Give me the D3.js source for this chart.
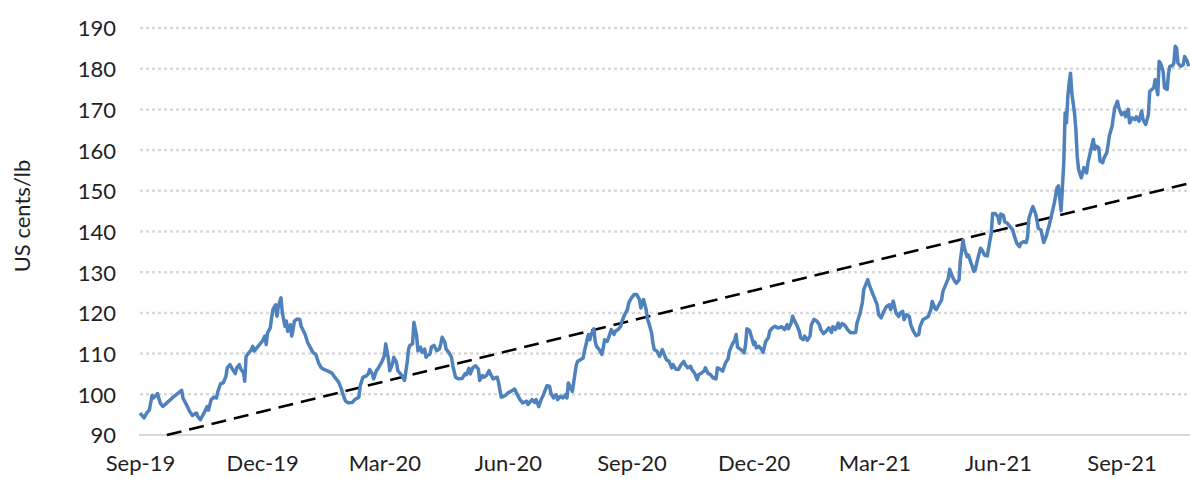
<!DOCTYPE html>
<html>
<head>
<meta charset="utf-8">
<script src="https://cdn.jsdelivr.net/npm/d3@7"></script>
<style>
  html, body { margin: 0; padding: 0; background: #fff; }
  svg { display: block; }
  text { font-family: Lato, "Open Sans", sans-serif; fill: #1f1f1f; }
</style>
</head>
<body>
<div id="chart"></div>
<script>
// coffee price, US cents/lb
const dates = [
  "2019-09-01","2019-09-02","2019-09-04","2019-09-06","2019-09-08","2019-09-10","2019-09-11","2019-09-13","2019-09-14","2019-09-16","2019-09-18","2019-09-21","2019-09-25","2019-09-28",
  "2019-10-02","2019-10-03","2019-10-06","2019-10-08","2019-10-10","2019-10-13","2019-10-14","2019-10-16","2019-10-18","2019-10-19","2019-10-21","2019-10-22","2019-10-24","2019-10-26","2019-10-28","2019-10-29","2019-10-31",
  "2019-11-02","2019-11-04","2019-11-05","2019-11-07","2019-11-09","2019-11-11","2019-11-12","2019-11-14","2019-11-15","2019-11-17","2019-11-18","2019-11-19","2019-11-21","2019-11-23","2019-11-24","2019-11-25","2019-11-27","2019-11-29",
  "2019-12-01","2019-12-03","2019-12-04","2019-12-05","2019-12-07","2019-12-08","2019-12-09","2019-12-11","2019-12-12","2019-12-13","2019-12-15","2019-12-16","2019-12-18","2019-12-19","2019-12-20","2019-12-22","2019-12-23","2019-12-24","2019-12-25","2019-12-27","2019-12-29","2019-12-30",
  "2020-01-02","2020-01-04","2020-01-06","2020-01-08","2020-01-10","2020-01-12","2020-01-14","2020-01-16","2020-01-19","2020-01-22","2020-01-24","2020-01-27","2020-01-29","2020-01-30",
  "2020-02-01","2020-02-03","2020-02-06","2020-02-08","2020-02-11","2020-02-12","2020-02-14","2020-02-16","2020-02-18","2020-02-19","2020-02-21","2020-02-22","2020-02-24","2020-02-25","2020-02-28",
  "2020-03-01","2020-03-02","2020-03-04","2020-03-05","2020-03-07","2020-03-08","2020-03-10","2020-03-11","2020-03-13","2020-03-14","2020-03-16","2020-03-18","2020-03-19","2020-03-20","2020-03-22","2020-03-23","2020-03-25","2020-03-26","2020-03-28","2020-03-29","2020-03-31",
  "2020-04-01","2020-04-02","2020-04-04","2020-04-05","2020-04-07","2020-04-09","2020-04-11","2020-04-12","2020-04-13","2020-04-15","2020-04-16","2020-04-18","2020-04-20","2020-04-21","2020-04-23","2020-04-25","2020-04-28","2020-04-30",
  "2020-05-01","2020-05-03","2020-05-04","2020-05-06","2020-05-08","2020-05-10","2020-05-11","2020-05-13","2020-05-14","2020-05-16","2020-05-18","2020-05-19","2020-05-21","2020-05-24","2020-05-25","2020-05-27","2020-05-30",
  "2020-06-01","2020-06-04","2020-06-06","2020-06-08","2020-06-10","2020-06-12","2020-06-15","2020-06-16","2020-06-19","2020-06-21","2020-06-22","2020-06-24","2020-06-26","2020-06-27","2020-06-30",
  "2020-07-02","2020-07-03","2020-07-05","2020-07-07","2020-07-08","2020-07-10","2020-07-12","2020-07-14","2020-07-15","2020-07-16","2020-07-17","2020-07-19","2020-07-21","2020-07-22","2020-07-23","2020-07-25","2020-07-27","2020-07-28","2020-07-30","2020-07-31",
  "2020-08-01","2020-08-02","2020-08-04","2020-08-05","2020-08-06","2020-08-08","2020-08-10","2020-08-11","2020-08-12","2020-08-14","2020-08-15","2020-08-17","2020-08-19","2020-08-20","2020-08-22","2020-08-24","2020-08-25","2020-08-27","2020-08-29","2020-08-30",
  "2020-09-01","2020-09-03","2020-09-05","2020-09-07","2020-09-08","2020-09-10","2020-09-12","2020-09-13","2020-09-14","2020-09-16","2020-09-17","2020-09-18","2020-09-20","2020-09-22","2020-09-24","2020-09-26","2020-09-27","2020-09-29",
  "2020-10-01","2020-10-02","2020-10-04","2020-10-06","2020-10-08","2020-10-10","2020-10-11","2020-10-13","2020-10-15","2020-10-16","2020-10-18","2020-10-20","2020-10-21","2020-10-23","2020-10-25","2020-10-26","2020-10-28","2020-10-30",
  "2020-11-01","2020-11-03","2020-11-04","2020-11-06","2020-11-08","2020-11-10","2020-11-12","2020-11-13","2020-11-15","2020-11-17","2020-11-18","2020-11-19","2020-11-21","2020-11-23","2020-11-24","2020-11-25","2020-11-26","2020-11-28","2020-11-30",
  "2020-12-01","2020-12-02","2020-12-03","2020-12-05","2020-12-07","2020-12-08","2020-12-10","2020-12-12","2020-12-13","2020-12-15","2020-12-17","2020-12-19","2020-12-22","2020-12-24","2020-12-26","2020-12-27","2020-12-29","2020-12-30","2020-12-31",
  "2021-01-02","2021-01-04","2021-01-05","2021-01-07","2021-01-08","2021-01-10","2021-01-12","2021-01-13","2021-01-15","2021-01-17","2021-01-19","2021-01-20","2021-01-22","2021-01-24","2021-01-26","2021-01-28","2021-01-29","2021-01-31",
  "2021-02-02","2021-02-03","2021-02-05","2021-02-07","2021-02-09","2021-02-11","2021-02-13","2021-02-15","2021-02-16","2021-02-18","2021-02-20","2021-02-21","2021-02-24","2021-02-25","2021-02-27",
  "2021-03-01","2021-03-03","2021-03-04","2021-03-06","2021-03-08","2021-03-10","2021-03-12","2021-03-13","2021-03-15","2021-03-17","2021-03-19","2021-03-20","2021-03-22","2021-03-23","2021-03-25","2021-03-27","2021-03-28","2021-03-30",
  "2021-04-01","2021-04-03","2021-04-04","2021-04-06","2021-04-08","2021-04-10","2021-04-12","2021-04-13","2021-04-15","2021-04-16","2021-04-18","2021-04-20","2021-04-21","2021-04-23","2021-04-25","2021-04-26","2021-04-28","2021-04-30",
  "2021-05-01","2021-05-03","2021-05-04","2021-05-06","2021-05-07","2021-05-09","2021-05-10","2021-05-12","2021-05-14","2021-05-15","2021-05-17","2021-05-19","2021-05-20","2021-05-22","2021-05-24","2021-05-25","2021-05-27","2021-05-28","2021-05-30",
  "2021-06-01","2021-06-02","2021-06-03","2021-06-05","2021-06-06","2021-06-08","2021-06-10","2021-06-12","2021-06-13","2021-06-15","2021-06-17","2021-06-18","2021-06-20","2021-06-22","2021-06-23","2021-06-24","2021-06-26","2021-06-27","2021-06-29","2021-06-30",
  "2021-07-01","2021-07-03","2021-07-05","2021-07-07","2021-07-09","2021-07-11","2021-07-13","2021-07-15","2021-07-16","2021-07-18","2021-07-20","2021-07-21","2021-07-22","2021-07-23","2021-07-24","2021-07-25","2021-07-26","2021-07-28","2021-07-29","2021-07-30","2021-07-31",
  "2021-08-02","2021-08-03","2021-08-04","2021-08-06","2021-08-07","2021-08-09","2021-08-11","2021-08-12","2021-08-13","2021-08-15","2021-08-16","2021-08-18","2021-08-19","2021-08-21","2021-08-22","2021-08-23","2021-08-25","2021-08-26","2021-08-27","2021-08-29","2021-08-30",
  "2021-09-01","2021-09-03","2021-09-04","2021-09-06","2021-09-07","2021-09-09","2021-09-11","2021-09-12","2021-09-14","2021-09-16","2021-09-17","2021-09-19","2021-09-21","2021-09-22","2021-09-24","2021-09-25","2021-09-26","2021-09-28","2021-09-29","2021-09-30",
  "2021-10-02","2021-10-03","2021-10-05","2021-10-06","2021-10-07","2021-10-09","2021-10-10","2021-10-11","2021-10-12","2021-10-13","2021-10-15","2021-10-17","2021-10-18","2021-10-20","2021-10-21"
];
const prices = [
  95.4,95.0,94.2,95.4,96.2,99.7,99.1,99.7,100.2,97.9,97.0,97.9,99.1,99.9,
  101.0,99.1,97.2,95.8,94.8,95.4,94.6,93.8,95.0,95.6,97.0,96.1,98.7,99.3,99.1,100.7,102.6,
  102.8,104.4,106.5,107.3,106.1,105.1,106.5,107.3,106.2,105.4,103.2,109.3,110.2,111.0,111.8,110.6,111.4,112.2,
  113.0,114.3,112.2,115.1,116.3,118.8,120.8,122.0,119.2,121.6,123.7,120.0,116.7,118.0,115.5,117.1,114.3,115.9,118.0,118.5,118.4,116.7,
  114.7,112.6,111.4,110.2,109.8,107.7,106.5,106.1,105.7,105.2,104.2,103.0,101.3,100.1,
  98.4,97.9,98.0,98.7,99.3,102.1,104.2,104.4,105.0,106.1,105.0,103.8,105.8,106.2,107.9,
  109.5,112.4,108.7,105.8,107.5,109.1,107.9,105.8,105.0,104.6,103.4,107.9,111.1,112.0,112.4,117.7,114.4,110.7,111.6,110.3,111.1,
  109.1,109.5,109.9,111.6,112.0,110.7,111.1,112.4,114.0,112.8,111.1,110.3,109.1,107.0,104.2,103.8,103.9,105.0,
  104.8,106.4,105.0,106.6,107.0,106.2,103.4,104.6,104.2,104.6,105.8,105.0,103.8,104.2,103.0,99.3,99.7,
  100.3,100.9,101.3,99.9,98.7,97.9,98.3,97.5,98.7,98.0,98.7,97.0,98.9,99.5,102.1,
  102.0,100.3,99.1,99.9,98.7,99.5,99.1,99.9,99.1,102.8,102.0,100.7,105.2,107.3,108.1,108.5,108.9,110.6,113.4,114.7,
  113.4,114.7,116.1,113.0,111.8,111.0,109.8,111.4,113.4,113.0,113.9,115.9,114.7,115.5,115.9,116.7,118.0,119.6,120.8,122.5,
  123.7,124.5,124.5,123.3,121.2,123.3,120.8,118.4,117.5,115.1,112.6,111.0,110.6,109.3,111.0,109.3,108.5,108.1,
  106.5,107.3,106.2,106.1,107.3,108.1,107.3,106.5,106.9,106.1,105.2,103.6,104.8,105.2,105.7,106.5,105.2,104.8,
  104.0,103.8,106.5,106.2,105.7,107.7,108.7,110.6,112.2,113.4,114.7,111.6,111.1,110.6,110.2,112.2,116.1,115.7,113.4,
  112.2,112.8,111.4,111.8,111.0,110.3,113.0,113.9,115.5,116.3,116.7,116.3,116.6,115.9,117.1,116.1,117.5,119.2,118.4,
  117.1,115.5,113.9,113.4,114.3,113.3,114.3,117.1,118.4,118.0,117.1,115.9,114.9,115.5,116.3,115.2,116.6,115.9,
  117.5,116.3,117.4,116.9,115.9,115.2,115.1,115.2,117.5,119.6,122.5,125.7,128.2,127.0,125.3,
  123.7,122.0,119.6,118.8,120.4,121.6,122.0,120.8,122.9,120.0,119.1,119.9,120.4,118.3,119.6,119.1,117.1,115.5,
  114.4,114.7,116.7,118.3,118.7,119.1,120.8,122.8,121.2,120.8,122.0,123.2,125.3,126.9,128.5,130.7,128.9,127.7,
  127.3,128.1,133.0,137.9,135.9,133.8,134.2,132.2,130.2,130.6,133.4,135.9,135.5,134.2,134.0,135.9,139.6,144.4,144.4,
  143.6,142.0,144.3,144.0,142.4,142.0,141.2,140.4,139.1,137.1,136.3,137.1,137.5,137.3,138.7,143.2,145.3,146.1,144.4,142.8,
  140.8,140.4,137.3,138.9,141.4,144.2,147.1,150.8,151.2,145.1,157.0,169.1,166.7,173.2,176.5,178.9,174.0,169.1,165.1,158.5,155.3,
  153.2,154.4,155.7,154.4,156.9,159.8,162.6,160.2,161.0,160.6,157.3,156.9,158.1,159.3,161.4,163.6,165.9,168.3,170.4,172.0,170.4,
  168.7,169.3,168.2,170.0,166.7,167.9,167.5,168.2,167.1,169.6,167.5,166.3,168.7,174.4,175.0,175.3,177.3,173.6,181.8,181.4,
  179.3,175.3,174.9,178.9,180.6,180.7,181.4,185.5,185.1,181.4,180.6,181.0,183.0,181.8,180.6
];

// dashed trend line
const trendDates = ["2019-09-21", "2021-10-22"];
const trendValues = [90, 151.9];

const yTicks = [90, 100, 110, 120, 130, 140, 150, 160, 170, 180, 190];
const xTickDates = ["2019-09-01", "2019-12-01", "2020-03-01", "2020-06-01", "2020-09-01",
                    "2020-12-01", "2021-03-01", "2021-06-01", "2021-09-01"];
const yTitle = "US cents/lb";

const parse = d3.utcParse("%Y-%m-%d");
const fmt = d3.utcFormat("%b-%y");

const series = dates.map((d, i) => ({date: parse(d), value: prices[i]}));
const trend = trendDates.map((d, i) => ({date: parse(d), value: trendValues[i]}));

const W = 1190, H = 479;
const svg = d3.select("#chart").append("svg")
  .attr("width", W)
  .attr("height", H);

const x = d3.scaleUtc()
  .domain([parse("2019-09-01"), parse("2021-10-22")])
  .range([140, 1190]);

const y = d3.scaleLinear()
  .domain([90, 190])
  .range([435, 28]);

// dotted gridlines
svg.append("g")
  .selectAll("line")
  .data(yTicks.filter(v => v > 90))
  .join("line")
    .attr("x1", 140)
    .attr("x2", W)
    .attr("y1", d => y(d))
    .attr("y2", d => y(d))
    .attr("stroke", "#d9d9d9")
    .attr("stroke-width", 2.5)
    .attr("stroke-dasharray", "3,3");

// bottom axis line
svg.append("line")
  .attr("x1", 139).attr("x2", W)
  .attr("y1", y(90)).attr("y2", y(90))
  .attr("stroke", "#d9d9d9")
  .attr("stroke-width", 2);

// y labels
const yAxis = d3.axisLeft(y).tickValues(yTicks).tickSize(0).tickPadding(0);
svg.append("g")
  .attr("transform", "translate(116,0)")
  .call(yAxis)
  .call(g => g.select(".domain").remove())
  .selectAll("text")
    .attr("font-size", 22)
    .attr("font-family", "Lato, sans-serif")
    .attr("fill", "#1f1f1f")
    .attr("dy", "0.36em");

// x labels
const xAxis = d3.axisBottom(x)
  .tickValues(xTickDates.map(parse))
  .tickFormat(fmt)
  .tickSize(0)
  .tickPadding(0);
svg.append("g")
  .attr("transform", "translate(0,455)")
  .call(xAxis)
  .call(g => g.select(".domain").remove())
  .selectAll("text")
    .attr("font-size", 22)
    .attr("font-family", "Lato, sans-serif")
    .attr("fill", "#1f1f1f")
    .attr("dy", "0.71em");

// y title
svg.append("text")
  .attr("transform", "translate(30,216) rotate(-90)")
  .attr("text-anchor", "middle")
  .attr("font-size", 22)
  .text(yTitle);

const line = d3.line()
  .x(d => x(d.date))
  .y(d => y(d.value));

svg.append("path")
  .datum(trend)
  .attr("fill", "none")
  .attr("stroke", "#000")
  .attr("stroke-width", 2.5)
  .attr("stroke-dasharray", "15,8")
  .attr("d", line);

svg.append("path")
  .datum(series)
  .attr("fill", "none")
  .attr("stroke", "#4f81bd")
  .attr("stroke-width", 3.5)
  .attr("stroke-linejoin", "round")
  .attr("d", line);
</script>
</body>
</html>
